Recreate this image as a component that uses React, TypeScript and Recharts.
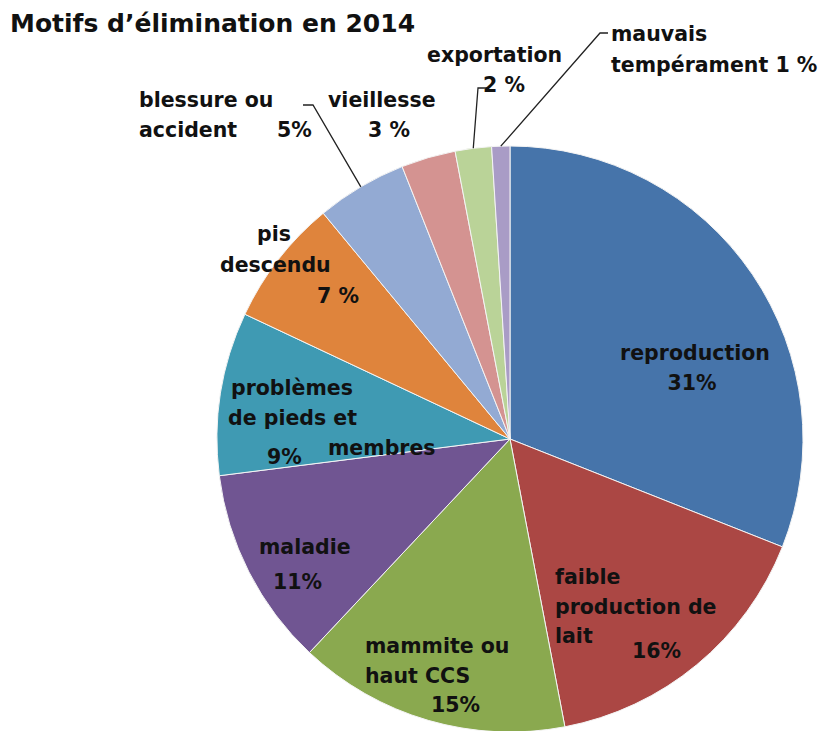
import { PieChart, Pie, Cell } from "recharts";

// Motifs d'élimination en 2014 — pie chart with manual label placement

const categories = [
  "reproduction",
  "faible production de lait",
  "mammite ou haut CCS",
  "maladie",
  "problèmes de pieds et membres",
  "pis descendu",
  "blessure ou accident",
  "vieillesse",
  "exportation",
  "mauvais tempérament",
];
const shares = [31, 16, 15, 11, 9, 7, 5, 3, 2, 1];

const COLORS = [
  "#4674aa",
  "#ab4744",
  "#8aa94f",
  "#705592",
  "#3f9ab3",
  "#df843c",
  "#93aad3",
  "#d49391",
  "#bad398",
  "#a99cc6",
];

// label layout: each line is [text, x, y, anchor]; leader = elbow + end point
type Line = [string, number, number, "start" | "middle" | "end"];
const LABELS: { lines: Line[]; leader?: [number, number, number, number] }[] = [
  { lines: [["reproduction", 695, 360, "middle"], ["31%", 692, 390, "middle"]] },
  {
    lines: [
      ["faible", 555, 584, "start"],
      ["production de", 555, 614, "start"],
      ["lait", 555, 643, "start"],
      ["16%", 632, 658, "start"],
    ],
  },
  {
    lines: [
      ["mammite ou", 365, 653, "start"],
      ["haut CCS", 365, 683, "start"],
      ["15%", 431, 712, "start"],
    ],
  },
  { lines: [["maladie", 259, 554, "start"], ["11%", 273, 589, "start"]] },
  {
    lines: [
      ["problèmes", 231, 395, "start"],
      ["de pieds et", 228, 425, "start"],
      ["membres", 328, 455, "start"],
      ["9%", 267, 464, "start"],
    ],
  },
  {
    lines: [
      ["pis", 257, 241, "start"],
      ["descendu", 220, 272, "start"],
      ["7 %", 317, 303, "start"],
    ],
  },
  {
    lines: [
      ["blessure ou", 139, 107, "start"],
      ["accident", 139, 137, "start"],
      ["5%", 277, 137, "start"],
    ],
    leader: [313, 105, 303, 105],
  },
  { lines: [["vieillesse", 328, 107, "start"], ["3 %", 368, 137, "start"]] },
  {
    lines: [["exportation", 427, 62, "start"], ["2 %", 483, 92, "start"]],
    leader: [478, 88, 487, 88],
  },
  {
    lines: [["mauvais", 611, 41, "start"], ["tempérament 1 %", 611, 72, "start"]],
    leader: [600, 33, 608, 33],
  },
];

const data = categories.map((name, i) => ({ name, value: shares[i] }));

const RAD = Math.PI / 180;
const FONT = "'DejaVu Sans', 'Liberation Sans', Arial, sans-serif";

function renderLabel(props: any) {
  const { cx, cy, midAngle, outerRadius, index } = props;
  const cfg = LABELS[index];
  if (!cfg) return null;
  let leader = null;
  if (cfg.leader) {
    const sx = cx + outerRadius * Math.cos(-midAngle * RAD);
    const sy = cy + outerRadius * Math.sin(-midAngle * RAD);
    const [ex, ey, tx, ty] = cfg.leader;
    leader = (
      <polyline
        points={`${sx},${sy} ${ex},${ey} ${tx},${ty}`}
        fill="none"
        stroke="#222"
        strokeWidth={1.3}
      />
    );
  }
  return (
    <g key={`lbl-${index}`}>
      {leader}
      {cfg.lines.map(([t, x, y, anchor], j) => (
        <text
          key={j}
          x={x}
          y={y}
          textAnchor={anchor}
          fontFamily={FONT}
          fontWeight="bold"
          fontSize={20.5}
          fill="#111"
        >
          {t}
        </text>
      ))}
    </g>
  );
}

export default function App() {
  return (
    <div
      style={{
        position: "absolute",
        left: 0,
        top: 0,
        width: 824,
        height: 731,
        background: "#fff",
      }}
    >
      <PieChart width={824} height={731} margin={{ top: 0, right: 0, bottom: 0, left: 0 }}>
        <text
          x={10}
          y={32}
          fontFamily={FONT}
          fontWeight="bold"
          fontSize={25}
          fill="#111"
        >
          Motifs d’élimination en 2014
        </text>
        <Pie
          data={data}
          dataKey="value"
          nameKey="name"
          cx={510}
          cy={439}
          outerRadius={293}
          startAngle={90}
          endAngle={-270}
          stroke="#f4f4f4"
          strokeWidth={1}
          label={renderLabel}
          labelLine={false}
          isAnimationActive={false}
        >
          {data.map((d, i) => (
            <Cell key={d.name} fill={COLORS[i]} />
          ))}
        </Pie>
      </PieChart>
    </div>
  );
}
